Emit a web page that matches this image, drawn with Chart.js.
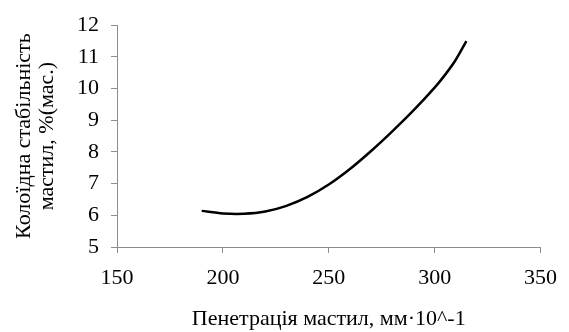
<!DOCTYPE html>
<html>
<head>
<meta charset="utf-8">
<script src="https://cdn.jsdelivr.net/npm/chart.js@4"></script>
<style>
  html, body { margin: 0; padding: 0; background: #fff; }
  #wrap { width: 569px; height: 332px; }
</style>
</head>
<body>
<div id="wrap"><canvas id="chart" width="569" height="332"></canvas></div>
<script>
// penetration (mm·10^-1) vs colloid stability (% mass)
const penetration = [190, 200, 210, 220, 230, 240, 250, 260, 270, 280, 290, 300, 305, 310, 315];
const stability   = [6.14, 6.06, 6.05, 6.12, 6.3, 6.58, 6.97, 7.46, 8.03, 8.65, 9.31, 10.03, 10.44, 10.91, 11.5];

const xTicks = [150, 200, 250, 300, 350];
const yTicks = [5, 6, 7, 8, 9, 10, 11, 12];

const serif = "'Liberation Serif', 'Times New Roman', serif";
const axisGray = '#8c8c8c';

new Chart(document.getElementById('chart'), {
    type: 'scatter',
    data: {
        datasets: [{
            data: penetration.map((x, i) => ({ x: x, y: stability[i] })),
            showLine: true,
            borderColor: '#000',
            borderWidth: 2.5,
            pointRadius: 0,
            tension: 0.3
        }]
    },
    options: {
        responsive: false,
        animation: false,
        layout: { padding: { left: 9, right: 26, top: 20, bottom: 0 } },
        plugins: { legend: { display: false }, tooltip: { enabled: false } },
        scales: {
            x: {
                type: 'linear',
                min: 150, max: 350,
                afterBuildTicks: s => { s.ticks = xTicks.map(v => ({ value: v })); },
                afterFit: s => { s.height = 85; },
                border: { color: axisGray, width: 1 },
                grid: { drawOnChartArea: false, color: axisGray, tickLength: 6 },
                ticks: { color: '#000', font: { family: serif, size: 22 }, padding: 12, maxRotation: 0 },
                title: {
                    display: true,
                    text: 'Пенетрація мастил, мм·10^-1',
                    color: '#000',
                    font: { family: serif, size: 22 },
                    padding: { top: 6, bottom: 0 }
                }
            },
            y: {
                min: 5, max: 12,
                afterBuildTicks: s => { s.ticks = yTicks.map(v => ({ value: v })); },
                afterFit: s => { s.width = 108; },
                border: { color: axisGray, width: 1 },
                grid: { drawOnChartArea: false, color: axisGray, tickLength: 6 },
                ticks: { color: '#000', font: { family: serif, size: 22 }, padding: 12 },
                title: {
                    display: true,
                    text: ['Колоїдна стабільність', 'мастил, %(мас.)'],
                    color: '#000',
                    font: { family: serif, size: 22, lineHeight: 1.05 },
                    padding: { top: 4, bottom: 4 }
                }
            }
        }
    }
});
</script>
</body>
</html>
